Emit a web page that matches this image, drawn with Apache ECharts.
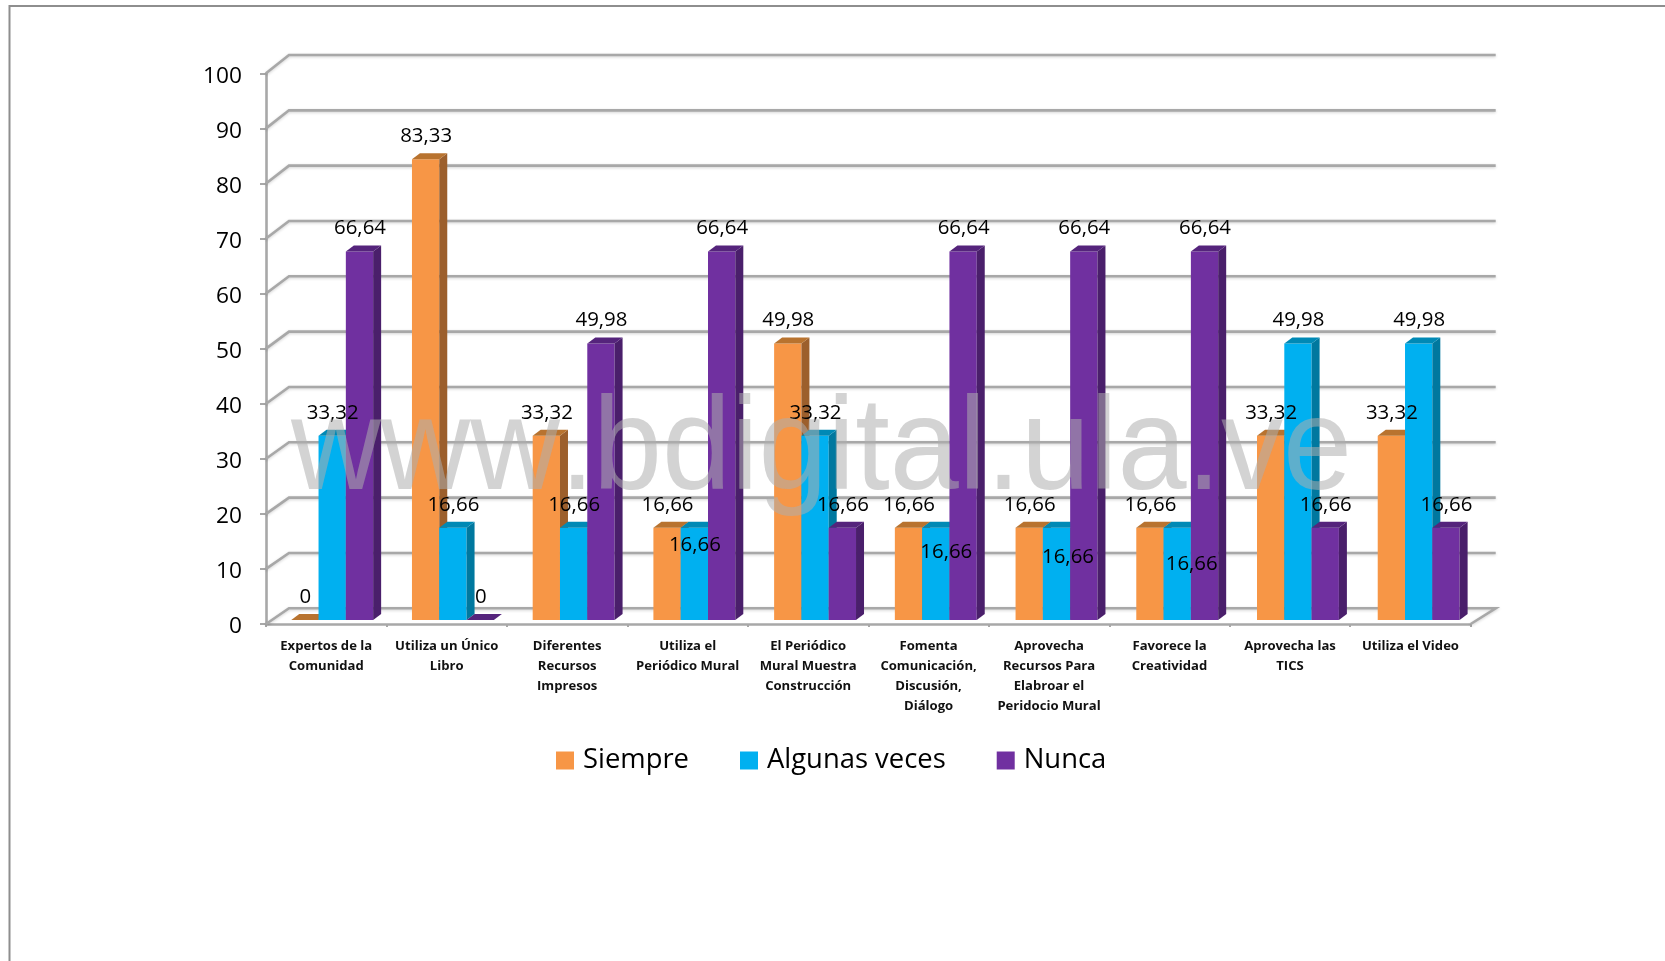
<!DOCTYPE html>
<html>
<head>
<meta charset="utf-8">
<style>html,body{margin:0;padding:0;background:#fff}#c{width:1665px;height:961px}</style>
<script src="https://cdn.jsdelivr.net/npm/echarts@6/dist/echarts.min.js"></script>
</head>
<body>
<div id="c"></div>
<script>
const categories = [
  'Expertos de la\nComunidad',
  'Utiliza un Único\nLibro',
  'Diferentes\nRecursos\nImpresos',
  'Utiliza el\nPeriódico Mural',
  'El Periódico\nMural Muestra\nConstrucción',
  'Fomenta\nComunicación,\nDiscusión,\nDiálogo',
  'Aprovecha\nRecursos Para\nElabroar el\nPeridocio Mural',
  'Favorece la\nCreatividad',
  'Aprovecha las\nTICS',
  'Utiliza el Video'
];
const siempre = [0, 83.33, 33.32, 16.66, 49.98, 16.66, 16.66, 16.66, 33.32, 33.32];
const algunas = [33.32, 16.66, 16.66, 16.66, 33.32, 16.66, 16.66, 16.66, 49.98, 49.98];
const nunca   = [66.64, 0, 49.98, 66.64, 16.66, 66.64, 66.64, 66.64, 16.66, 16.66];
const yTicks  = [0, 10, 20, 30, 40, 50, 60, 70, 80, 90, 100];
const seriesNames = ['Siempre', 'Algunas veces', 'Nunca'];

// manual nudges (px) of the blue labels that sit inside the bars in the original
const labelDropY = { 1: [0, 0, 0, 40, 0, 47, 52, 59, 0, 0] };
const labelNudgeX = { 1: [0, 0, 0, 0, 0, 10, 11, 14, 0, 0] };

const faces = [
  { front: '#F79646', side: '#9C5F2C', top: '#B8732F' },
  { front: '#00B0F0', side: '#00789F', top: '#0089B5' },
  { front: '#7030A0', side: '#4A1F6B', top: '#55247C' }
];
const GRID = '#A8A8A8';
const DX = 23, DEPTH_X = 8, DEPTH_Y = 6;

const chart = echarts.init(document.getElementById('c'), null, { renderer: 'canvas' });

function lift(v) { return 4 + 0.023 * v; }   // floor plane of the pseudo-3D bars

function barRender(si) {
  return function (params, api) {
    const idx = api.value(0), v = api.value(1);
    const band = api.size([1, 0])[0];
    const cx = api.coord([idx, 0])[0];
    const w = band * 0.2266;
    const x = cx - band / 2 + band * 0.222 + si * w - 1.5 + idx * 0.25;
    const y0 = api.coord([idx, 0])[1] - lift(0);
    const y1 = api.coord([idx, v])[1] - lift(v);
    const f = faces[si];
    const dropY = (labelDropY[si] || [])[idx] || 0;
    const dropX = (labelNudgeX[si] || [])[idx] || 0;
    const children = [];
    if (v > 0) {
      children.push({ type: 'rect', shape: { x: x, y: y1, width: w, height: y0 - y1 }, style: { fill: f.front } });
      children.push({ type: 'polygon', shape: { points: [[x + w, y1], [x + w + DEPTH_X, y1 - DEPTH_Y], [x + w + DEPTH_X, y0 - DEPTH_Y], [x + w, y0]] }, style: { fill: f.side } });
    }
    children.push({ type: 'polygon', shape: { points: [[x, y1], [x + DEPTH_X, y1 - DEPTH_Y], [x + w + DEPTH_X, y1 - DEPTH_Y], [x + w, y1]] }, style: { fill: f.top } });
    children.push({
      type: 'text', z2: 20,
      style: {
        x: x + w / 2 + dropX + 0.5, y: y1 - 23 + dropY,
        text: String(v).replace('.', ','),
        fill: '#000', font: '20.4px "Open Sans"', align: 'center', verticalAlign: 'middle'
      }
    });
    return { type: 'group', children: children };
  };
}

function wallRender(params, api) {
  const t = api.value(1);
  const p = api.coord([0, t]);
  const leftX = api.coord([0, 0])[0] - api.size([1, 0])[0] / 2;
  const rightX = leftX + api.size([1, 0])[0] * categories.length;
  const backY = p[1] - (15.7 + 0.026 * t);
  const pts = [[leftX, p[1]], [leftX + DX, backY], [rightX + DX + 2, backY]];
  if (t === 0) pts.push([rightX, p[1]]);
  return {
    type: 'polyline', z2: -5,
    shape: { points: pts },
    style: { fill: null, stroke: GRID, lineWidth: 2.6, shadowColor: 'rgba(0,0,0,0.18)', shadowBlur: 3, shadowOffsetY: 1 }
  };
}

const barSeries = [siempre, algunas, nunca].map((vals, si) => ({
  name: seriesNames[si],
  type: 'custom',
  coordinateSystem: 'cartesian2d',
  renderItem: barRender(si),
  itemStyle: { color: faces[si].front },
  encode: { x: 0, y: 1 },
  data: vals.map((v, i) => [i, v]),
  silent: true
}));

// watermark is split so each piece lands where the (unkerned) original has it
const watermarkText = ['www', '.', 'bdigital.', 'ula.ve'];
const watermarkX = [291, 560, 593, 1021];

chart.setOption({
  animation: false,
  backgroundColor: '#fff',
  grid: { left: 266, top: 73.3, width: 1204.7, height: 550.7, containLabel: false },
  legend: {
    data: seriesNames.map(n => ({ name: n, icon: 'rect' })),
    left: 551, top: 742, itemWidth: 18, itemHeight: 18, itemGap: 51,
    textStyle: { fontFamily: 'Open Sans', fontSize: 27.4, color: '#000', padding: [0, 0, 0, 4] }
  },
  xAxis: {
    type: 'category',
    data: categories,
    axisLine: { lineStyle: { color: GRID, width: 2.6 } },
    axisTick: { show: true, length: 3, alignWithLabel: false, lineStyle: { color: GRID, width: 2 } },
    axisLabel: { interval: 0, margin: 12, fontFamily: 'Open Sans', fontWeight: 'bold', fontSize: 13.1, lineHeight: 20, color: '#111', verticalAlign: 'top' },
    splitLine: { show: false }
  },
  yAxis: {
    type: 'value', min: 0, max: 100, interval: 10,
    axisLine: { show: true, lineStyle: { color: GRID, width: 2.6 } },
    axisTick: { show: true, length: 6, lineStyle: { color: GRID, width: 2 } },
    axisLabel: { margin: 24, fontFamily: 'Open Sans', fontSize: 22.7, color: '#000', verticalAlign: 'top', lineHeight: 6 },
    splitLine: { show: false }
  },
  graphic: [
    { type: 'polyline', z: -10, silent: true, shape: { points: [[9.5, 961], [9.5, 6], [1665, 6]] }, style: { fill: null, stroke: '#8E8E8E', lineWidth: 2 } }
  ].concat(watermarkText.map((t, i) => ({
    type: 'text', z: 50, silent: true, x: watermarkX[i], y: 387, scaleX: 0.94,
    style: { text: t, fill: 'rgba(174,174,174,0.54)', font: '132px "Liberation Sans"', verticalAlign: 'top' }
  }))),
  series: [{
    type: 'custom',
    name: 'wall',
    coordinateSystem: 'cartesian2d',
    renderItem: wallRender,
    encode: { x: 0, y: 1 },
    data: yTicks.map(t => [0, t]),
    silent: true,
    z: 1
  }].concat(barSeries)
});
</script>
</body>
</html>
